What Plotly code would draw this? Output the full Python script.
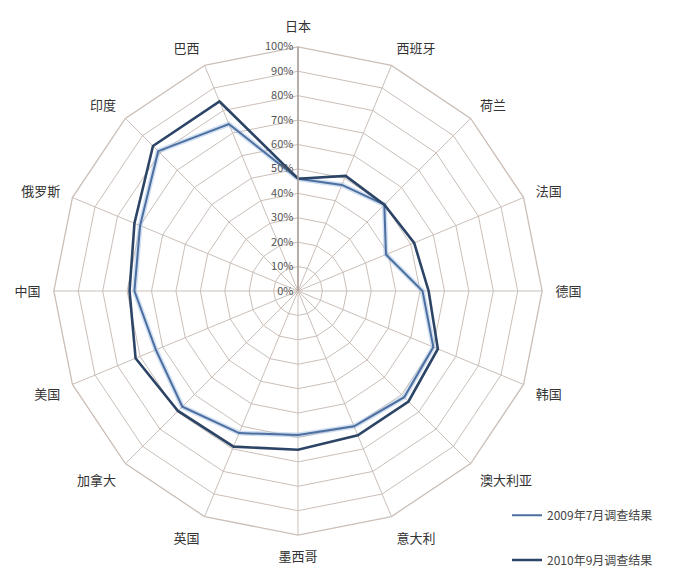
import plotly.graph_objects as go

categories = ["日本", "西班牙", "荷兰", "法国", "德国", "韩国", "澳大利亚", "意大利",
              "墨西哥", "英国", "加拿大", "美国", "中国", "俄罗斯", "印度", "巴西"]
s2009 = [0.46, 0.47, 0.50, 0.39, 0.51, 0.60, 0.615, 0.60,
         0.59, 0.63, 0.67, 0.63, 0.67, 0.70, 0.81, 0.74]
s2010 = [0.46, 0.51, 0.50, 0.515, 0.535, 0.62, 0.64, 0.64,
         0.65, 0.69, 0.695, 0.72, 0.69, 0.725, 0.84, 0.84]
name2009 = "2009年7月调查结果"
name2010 = "2010年9月调查结果"

FONT = "Noto Sans CJK SC"
GRID = "#cbbfb8"

def closed(v):
    return v + v[:1]

cats_c = closed(categories)

fig = go.Figure()
# soft halo under the 2009 line
fig.add_trace(go.Scatterpolar(r=closed(s2009), theta=cats_c, mode="lines",
                              line=dict(color="rgba(150,185,225,0.45)", width=5),
                              showlegend=False, hoverinfo="skip"))
fig.add_trace(go.Scatterpolar(r=closed(s2009), theta=cats_c, mode="lines", name=name2009,
                              line=dict(color="#4d6f9f", width=2), legend="legend"))
fig.add_trace(go.Scatterpolar(r=closed(s2010), theta=cats_c, mode="lines", name=name2010,
                              line=dict(color="#2c4466", width=2.6), legend="legend2"))

legend_style = dict(xanchor="left", yanchor="middle", bgcolor="rgba(0,0,0,0)",
                    font=dict(size=12, color="#444444", family=FONT), itemwidth=30)

fig.update_layout(
    width=692, height=575,
    margin=dict(l=0, r=0, t=0, b=0),
    paper_bgcolor="white",
    plot_bgcolor="white",
    font=dict(family=FONT, size=12, color="#333333"),
    polar=dict(
        domain=dict(x=[53/692, 543/692], y=[(575-537)/575, (575-47)/575]),
        bgcolor="white",
        gridshape="linear",
        radialaxis=dict(range=[0, 1], dtick=0.1, tick0=0, tickformat=".0%",
                        angle=90, tickangle=90, side="counterclockwise",
                        showline=True, linecolor="#a89c96", linewidth=1.5,
                        gridcolor=GRID, gridwidth=1.3, ticks="",
                        tickfont=dict(size=11, color="#555555", family=FONT)),
        angularaxis=dict(direction="clockwise", rotation=90,
                         categoryorder="array", categoryarray=categories,
                         gridcolor=GRID, gridwidth=1.3,
                         showline=True, linecolor=GRID, linewidth=1.3,
                         ticks="outside", ticklen=10, tickcolor="rgba(0,0,0,0)",
                         tickfont=dict(size=13, color="#333333", family=FONT)),
    ),
    legend=dict(x=507/692, y=(575-517)/575, **legend_style),
    legend2=dict(x=507/692, y=(575-562)/575, **legend_style),
)

fig.write_html("out.html")
